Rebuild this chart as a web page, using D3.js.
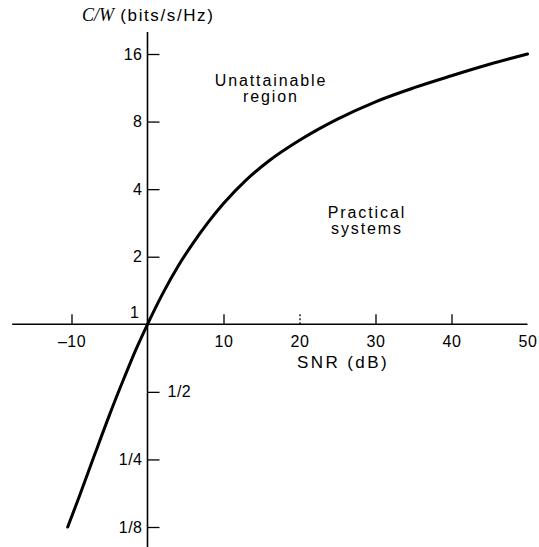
<!DOCTYPE html>
<meta charset="utf-8">
<html>
<style>
body { margin: 0; background: #fff; }
svg text { font-family: "Liberation Sans", Arial, sans-serif; fill: #000; }
.axis path, .axis line { stroke: #000; }
.curve { fill: none; stroke: #000; stroke-width: 3px; stroke-linecap: round; }
</style>
<body>
<svg width="539" height="547"></svg>
<script src="https://d3js.org/d3.v7.min.js"></script>
<script>

// SNR (dB) and C/W (bits/s/Hz)
var snr = [-10.5, -9, -7, -5, -3, -1.5, 0, 2, 4, 6, 8, 10, 13, 16, 20, 25, 30, 35, 40, 45, 50];
var cw  = [0.125, 0.17, 0.26, 0.395, 0.585, 0.775, 1.0, 1.37, 1.81, 2.3, 2.85, 3.45, 4.4, 5.35, 6.6, 8.2, 9.8, 11.3, 12.8, 14.4, 16.0];

var xTicks = [-10, 10, 20, 30, 40, 50];
var yTicks = [16, 8, 4, 2, 1, 0.5, 0.25, 0.125];
var yLabels = ["16", "8", "4", "2", "1", "1/2", "1/4", "1/8"];

var svg = d3.select("svg");

var x = d3.scaleLinear().domain([-10, 50]).range([71.5, 527.5]);
var y = d3.scaleLog().base(2).domain([0.125, 16]).range([527, 54]);

var x0 = x(0), y1 = y(1);

// x axis (ticks point up, labels below)
var xAxis = svg.append("g")
    .attr("class", "axis")
    .attr("transform", "translate(0," + y1 + ")")
    .call(d3.axisBottom(x)
      .tickValues(xTicks)
      .tickSize(-10)
      .tickPadding(11)
      .tickFormat(function(d) { return d < 0 ? "\u2013" + Math.abs(d) : d; }));
xAxis.select(".domain").remove();
xAxis.append("line")
    .attr("x1", x(-17.8)).attr("x2", x(50))
    .attr("stroke", "#000").attr("stroke-width", 1.6);
xAxis.selectAll(".tick line").attr("stroke-width", 1.3);
xAxis.selectAll(".tick").filter(function(d) { return d == 50; }).select("line").remove();
xAxis.selectAll(".tick").filter(function(d) { return d == 20; }).select("line")
    .attr("stroke", "#bbb").attr("stroke-dasharray", "2,2");
xAxis.selectAll("text")
    .attr("font-size", 16).attr("font-family", "Liberation Sans, Arial, sans-serif")
    .attr("letter-spacing", 0.5).attr("fill", "#000");

svg.append("text")
    .attr("x", 343).attr("y", 368)
    .attr("text-anchor", "middle")
    .attr("font-size", 17)
    .attr("letter-spacing", 2.4)
    .text("SNR (dB)");

// y axis (ticks to the right)
var yAxis = svg.append("g")
    .attr("class", "axis")
    .attr("transform", "translate(" + x0 + ",0)")
    .call(d3.axisLeft(y)
      .tickValues(yTicks)
      .tickSize(-12)
      .tickPadding(5)
      .tickFormat(function(d, i) { return yLabels[i]; }));
yAxis.select(".domain").remove();
yAxis.append("line")
    .attr("y1", 32).attr("y2", 547)
    .attr("stroke", "#000").attr("stroke-width", 1.6);
yAxis.selectAll(".tick line").attr("stroke-width", 1.3);
yAxis.selectAll("text")
    .attr("font-size", 16).attr("font-family", "Liberation Sans, Arial, sans-serif")
    .attr("letter-spacing", 0.5).attr("fill", "#000");
yAxis.selectAll(".tick").filter(function(d) { return d == 1; })
    .call(function(t) {
      t.select("line").remove();
      t.select("text").attr("x", -8).attr("dy", "-0.45em");
    });
yAxis.selectAll(".tick").filter(function(d) { return d == 0.5; }).select("text")
    .attr("x", 20).attr("text-anchor", "start");

// axis title
var title = svg.append("text")
    .attr("x", 82).attr("y", 21)
    .attr("font-size", 17);
title.append("tspan")
    .attr("font-family", "Liberation Serif, Times New Roman, serif")
    .attr("font-style", "italic")
    .attr("font-size", 18)
    .text("C/W");
title.append("tspan")
    .attr("letter-spacing", 1.6)
    .text(" (bits/s/Hz)");

// capacity curve
var pts = snr.map(function(s, i) { return [s, cw[i]]; });
svg.append("path")
    .attr("class", "curve")
    .attr("d", d3.line()
      .x(function(d) { return x(d[0]); })
      .y(function(d) { return y(d[1]); })
      .curve(d3.curveMonotoneX)(pts));

// region labels, one text per line
function block(cx, by, lines) {
  lines.forEach(function(s, i) {
    svg.append("text")
        .attr("x", cx).attr("y", by + i * 16)
        .attr("text-anchor", "middle")
        .attr("font-size", 16)
        .attr("letter-spacing", 1.9)
        .text(s);
  });
}
block(271, 86, ["Unattainable", "region"]);
block(367, 218, ["Practical", "systems"]);

</script>
</body>
</html>
